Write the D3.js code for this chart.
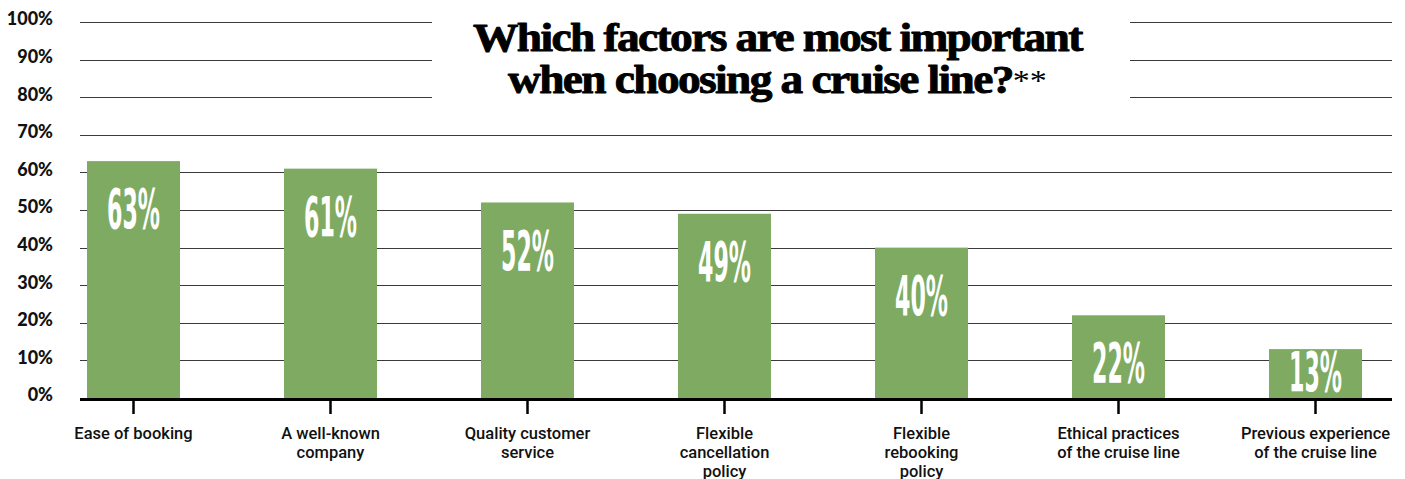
<!DOCTYPE html>
<html>
<head>
<meta charset="utf-8">
<script src="https://cdn.jsdelivr.net/npm/d3@7"></script>
<style>
  html, body { margin: 0; padding: 0; background: #fff; }
  svg { display: block; }
</style>
</head>
<body>
<svg id="chart" width="1405" height="479"></svg>
<script>
// Survey answers: share of respondents naming each factor
const categories = [
  ["Ease of booking"],
  ["A well-known", "company"],
  ["Quality customer", "service"],
  ["Flexible", "cancellation", "policy"],
  ["Flexible", "rebooking", "policy"],
  ["Ethical practices", "of the cruise line"],
  ["Previous experience", "of the cruise line"]
];
const values = [63, 61, 52, 49, 40, 22, 13];
const yTicks = [0, 10, 20, 30, 40, 50, 60, 70, 80, 90, 100];
const titleLines = ["Which factors are most important", "when choosing a cruise line?"];

const gridLeft = 80, gridRight = 1392;
const svg = d3.select("#chart");

const x = d3.scaleBand()
  .domain(d3.range(values.length))
  .range([35, 1414])
  .paddingInner(0.528)
  .paddingOuter(0.264);

const y = d3.scaleLinear().domain([0, 100]).range([398, 22]);

// gridlines and tick labels
const yAxis = svg.append("g").attr("class", "y-axis");
yAxis.selectAll("line")
  .data(yTicks.filter(d => d > 0))
  .join("line")
  .attr("x1", gridLeft).attr("x2", gridRight)
  .attr("y1", d => Math.round(y(d)) + 0.5).attr("y2", d => Math.round(y(d)) + 0.5)
  .attr("stroke", "#3a3a3a").attr("stroke-width", 1.2);

yAxis.selectAll("text")
  .data(yTicks)
  .join("text")
  .attr("x", 53)
  .attr("y", d => y(d) - 3)
  .attr("dy", "0.36em")
  .attr("text-anchor", "end")
  .attr("font-family", "Lato, 'Open Sans', sans-serif")
  .attr("font-weight", 900)
  .attr("font-size", 18)
  .attr("fill", "#111")
  .text(d => d + "%");

// title block with a white backing that interrupts the gridlines
svg.append("rect")
  .attr("x", 432).attr("y", 0).attr("width", 698).attr("height", 106)
  .attr("fill", "#fff");

const title = svg.append("g").attr("class", "title");
function titleText() {
  return title.append("text")
    .attr("font-family", "'Liberation Serif', 'DejaVu Serif', serif")
    .attr("font-weight", 700)
    .attr("font-size", 40)
    .attr("letter-spacing", -1.4)
    .attr("fill", "#000")
    .attr("stroke", "#000")
    .attr("stroke-width", 0.9)
    .attr("stroke-linejoin", "round");
}
const t1 = titleText().text(titleLines[0]);
const t2 = titleText();
t2.append("tspan").text(titleLines[1]);
t2.append("tspan")
  .attr("font-weight", 400).attr("font-size", 30).attr("dy", -3)
  .attr("letter-spacing", 0).attr("stroke-width", 0).text("**");

// fit each title line to its span
function fitLine(sel, left, right, baseline) {
  const w = sel.node().getComputedTextLength();
  const s = (right - left) / w;
  sel.attr("transform", `translate(${left},${baseline}) scale(${s},1)`);
}
fitLine(t1, 473, 1082, 51);
fitLine(t2, 508, 1047, 93);

// bars
svg.append("g").selectAll("rect")
  .data(values)
  .join("rect")
  .attr("x", (d, i) => x(i))
  .attr("y", d => y(d))
  .attr("width", x.bandwidth())
  .attr("height", d => y(0) - y(d))
  .attr("fill", "#7eab61");

// value labels inside bars
svg.append("g").selectAll("text")
  .data(values)
  .join("text")
  .attr("x", (d, i) => x(i) + x.bandwidth() / 2)
  .attr("y", d => Math.min(y(d) + 47, y(0) - 27))
  .attr("dy", "0.36em")
  .attr("text-anchor", "middle")
  .attr("font-family", "'Liberation Sans Narrow', 'DejaVu Sans Condensed', sans-serif")
  .attr("font-weight", 700)
  .attr("font-size", 56)
  .attr("fill", "#fff")
  .attr("textLength", 53)
  .attr("lengthAdjust", "spacingAndGlyphs")
  .text(d => d + "%");

// baseline axis and ticks
svg.append("line")
  .attr("x1", gridLeft).attr("x2", gridRight)
  .attr("y1", y(0) + 1.5).attr("y2", y(0) + 1.5)
  .attr("stroke", "#000").attr("stroke-width", 3);

svg.append("g").selectAll("line")
  .data(values)
  .join("line")
  .attr("x1", (d, i) => x(i) + x.bandwidth() / 2)
  .attr("x2", (d, i) => x(i) + x.bandwidth() / 2)
  .attr("y1", y(0) + 2).attr("y2", y(0) + 16)
  .attr("stroke", "#000").attr("stroke-width", 2.5);

// category labels
const cat = svg.append("g").selectAll("text")
  .data(categories)
  .join("text")
  .attr("x", (d, i) => x(i) + x.bandwidth() / 2)
  .attr("y", 439)
  .attr("text-anchor", "middle")
  .attr("font-family", "Roboto, 'Open Sans', sans-serif")
  .attr("font-weight", 500)
  .attr("font-size", 16.5)
  .attr("fill", "#111");
cat.selectAll("tspan")
  .data(d => d)
  .join("tspan")
  .attr("x", function () { return this.parentNode.getAttribute("x"); })
  .attr("dy", (d, i) => i === 0 ? 0 : 19)
  .text(d => d);
</script>
</body>
</html>
